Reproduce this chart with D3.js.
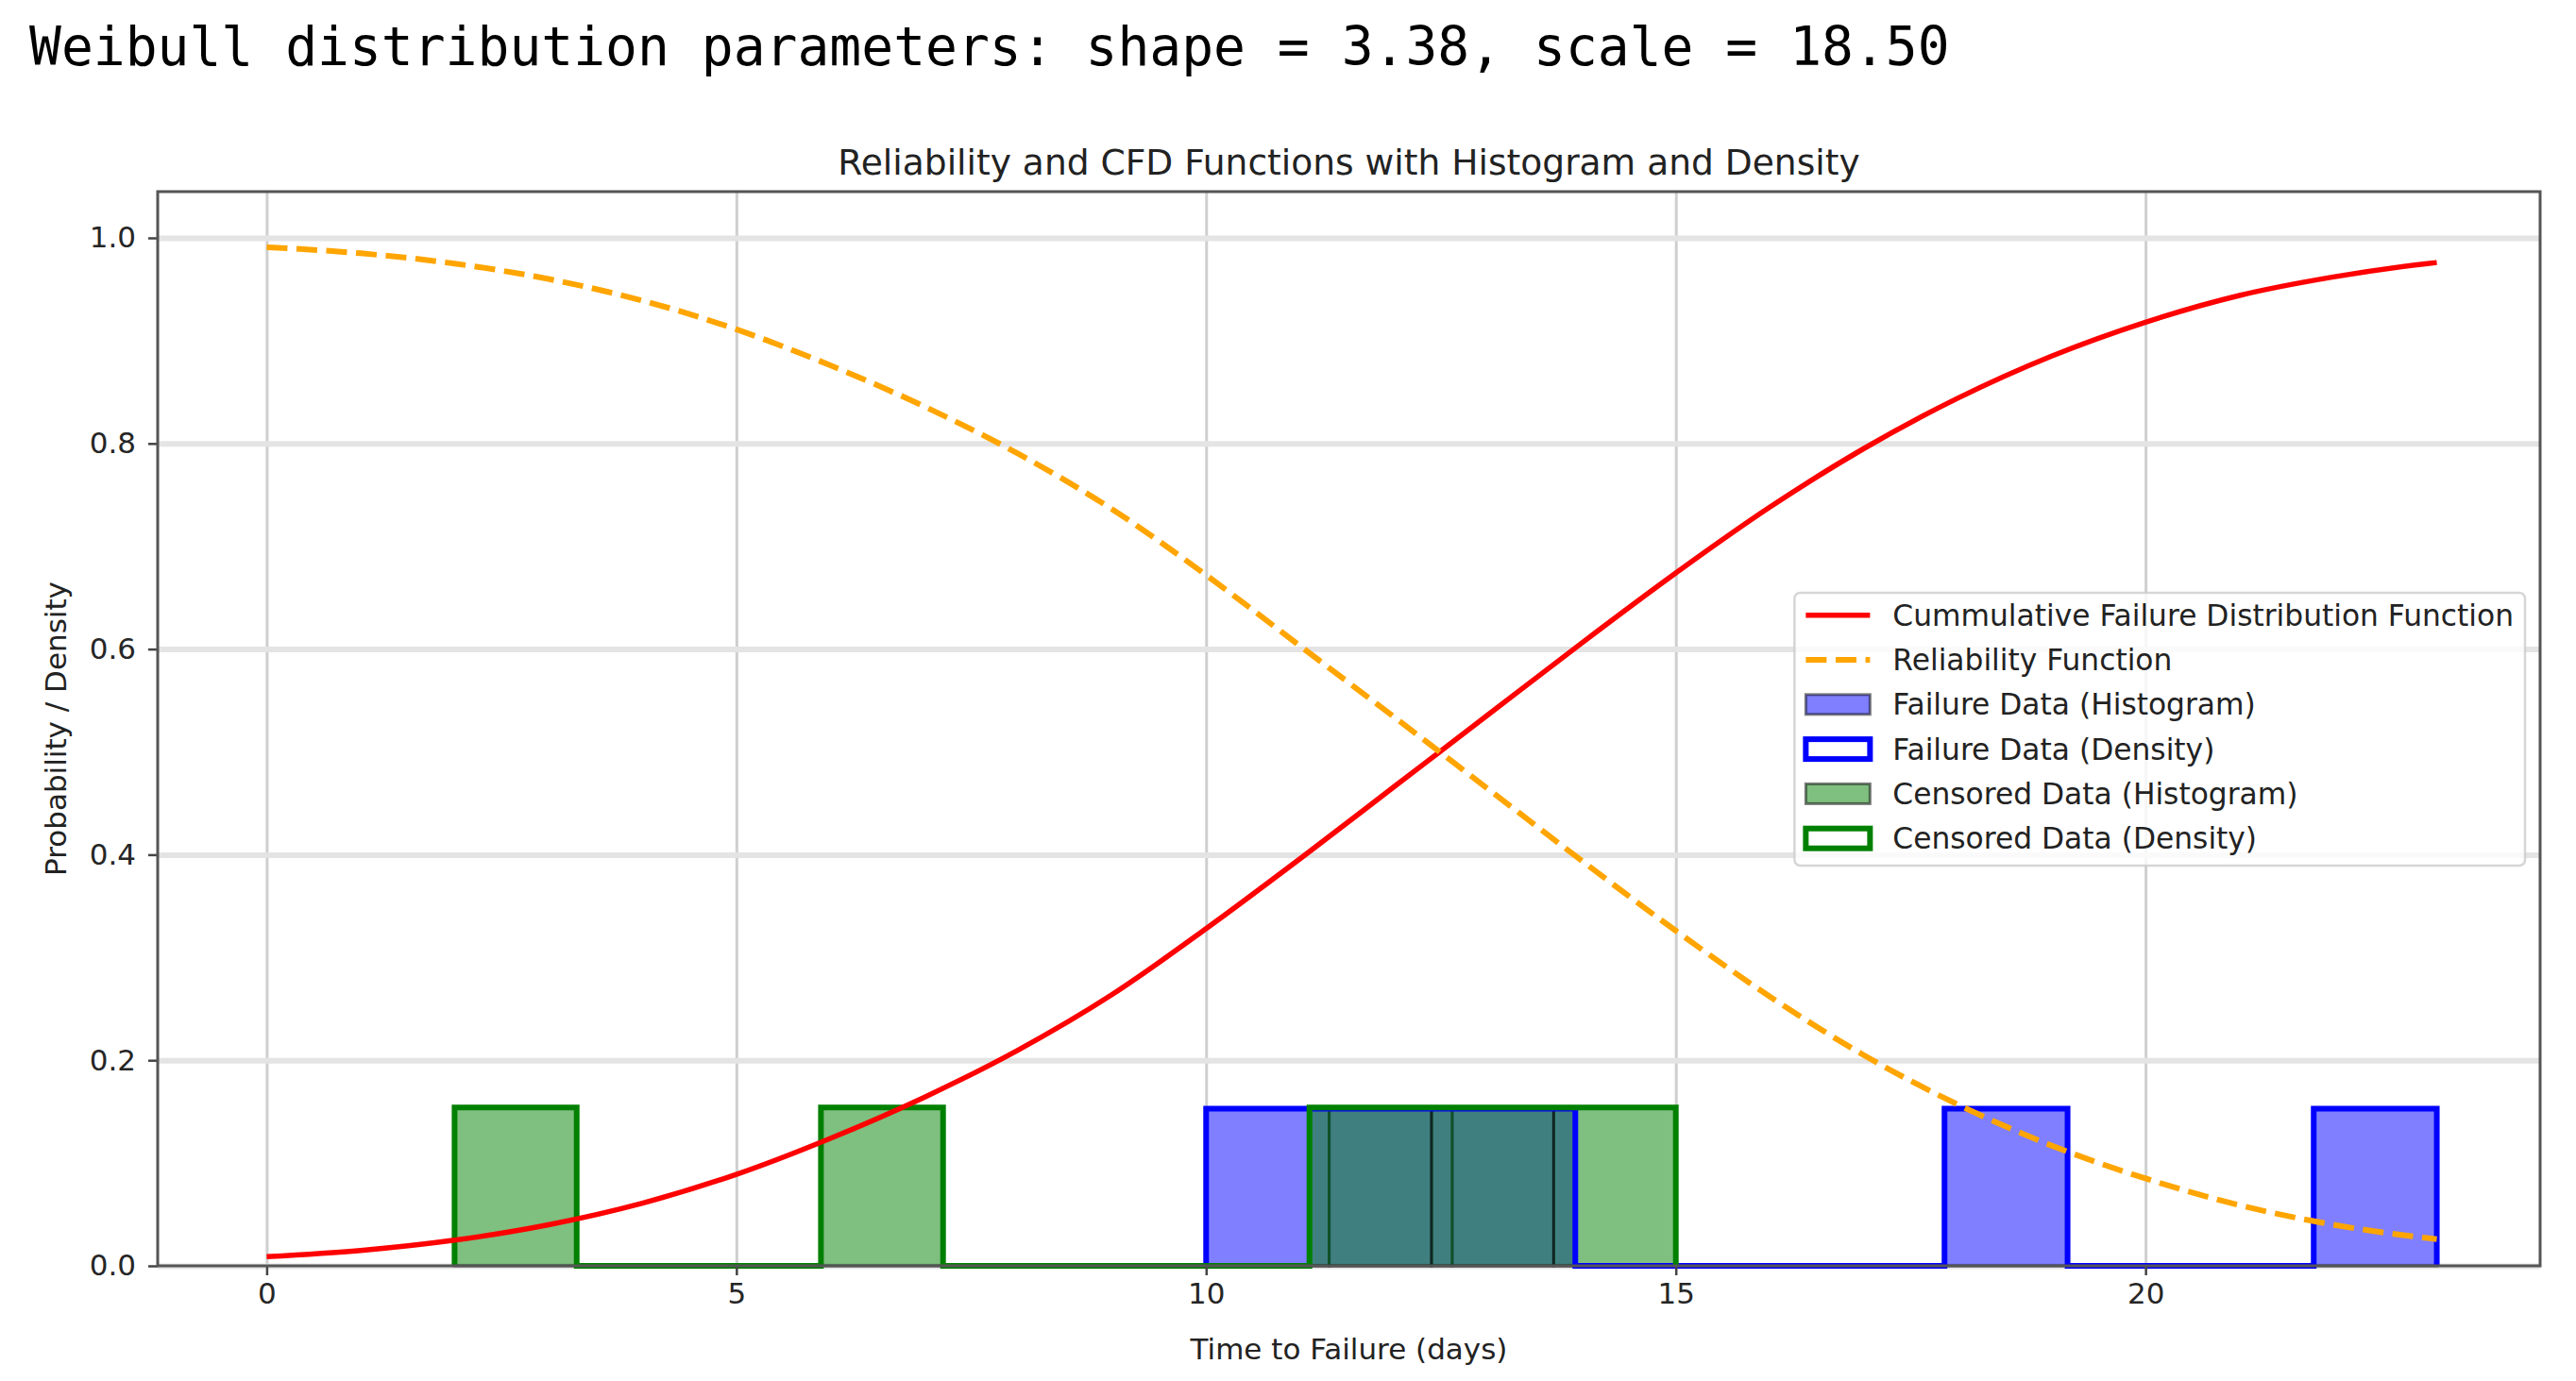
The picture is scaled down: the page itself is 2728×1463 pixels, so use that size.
<!DOCTYPE html>
<html>
<head>
<meta charset="utf-8">
<script src="https://cdn.jsdelivr.net/npm/d3@7"></script>
<style>
  body { margin: 0; background: #fff; }
  svg { display: block; }
</style>
</head>
<body>
<svg id="chart" width="2728" height="1463"></svg>
<script>
const header = 'Weibull distribution parameters: shape = 3.38, scale = 18.50';
const title = 'Reliability and CFD Functions with Histogram and Density';
const xLabel = 'Time to Failure (days)';
const yLabel = 'Probability / Density';

const times = [0, 1, 2, 3, 4, 5, 6, 7, 8, 9, 10, 11, 12, 13, 14, 15, 16, 17, 18, 19, 20, 21, 22, 23, 23.1];
const cdfValues = [0.009, 0.015, 0.025, 0.040, 0.061, 0.089, 0.124, 0.164, 0.210, 0.264, 0.328, 0.396,
  0.466, 0.536, 0.606, 0.674, 0.738, 0.795, 0.844, 0.885, 0.918, 0.944, 0.962, 0.975, 0.976];
const reliabilityValues = [0.991, 0.985, 0.975, 0.960, 0.939, 0.911, 0.876, 0.836, 0.790, 0.736, 0.672, 0.603,
  0.534, 0.464, 0.394, 0.326, 0.262, 0.205, 0.157, 0.117, 0.085, 0.059, 0.040, 0.027, 0.026];

// histogram bins (edges) and density per bin
const failureEdges = [10.0, 11.31, 12.62, 13.93, 15.24, 16.55, 17.86, 19.17, 20.48, 21.79, 23.1];
const failureDensity = [0.153, 0.153, 0.153, 0, 0, 0, 0.153, 0, 0, 0.153];
const censoredEdges = [2.0, 3.3, 4.6, 5.9, 7.2, 8.5, 9.8, 11.1, 12.4, 13.7, 15.0];
const censoredDensity = [0.154, 0, 0, 0.154, 0, 0, 0, 0.154, 0.154, 0.154];

const xTicks = [0, 5, 10, 15, 20];
const yTicks = [0.0, 0.2, 0.4, 0.6, 0.8, 1.0];

const legendLabels = [
  'Cummulative Failure Distribution Function',
  'Reliability Function',
  'Failure Data (Histogram)',
  'Failure Data (Density)',
  'Censored Data (Histogram)',
  'Censored Data (Density)',
];

const red = '#ff0000';
const orange = '#ffa500';
const blue = '#0000ff';
const green = '#008000';
const font = "'DejaVu Sans', sans-serif";

const svg = d3.select('#chart');
svg.append('rect').attr('width', 2728).attr('height', 1463).attr('fill', '#fff');

// printed line above the figure
svg.append('text')
  .attr('x', 31)
  .attr('y', 69)
  .style('font-family', "'DejaVu Sans Mono', monospace")
  .style('font-size', '56.3px')
  .attr('fill', '#000')
  .text(header);

const margin = { top: 203, right: 38, bottom: 122, left: 167 };
const width = 2728 - margin.left - margin.right;
const height = 1463 - margin.top - margin.bottom;
const chart = svg.append('g')
  .attr('transform', `translate(${margin.left}, ${margin.top})`);

const x = d3.scaleLinear().domain([-1.16, 24.2]).range([0, width]);
const y = d3.scaleLinear().domain([0, 1.045]).range([height, 0]);

// grid
chart.append('g')
    .attr('transform', `translate(0, ${height})`)
    .call(d3.axisBottom(x).tickValues(xTicks).tickSize(-height).tickFormat(''))
    .call(g => g.select('.domain').remove())
  .selectAll('line')
    .attr('stroke', '#cfcfcf')
    .attr('stroke-width', 3);

chart.append('g')
    .call(d3.axisLeft(y).tickValues(yTicks).tickSize(-width).tickFormat(''))
    .call(g => g.select('.domain').remove())
  .selectAll('line')
    .attr('stroke', '#e4e4e4')
    .attr('stroke-width', 6);

const toBins = (edges, dens) => dens.map((v, i) => ({ x0: edges[i], x1: edges[i + 1], v }));

// outline of a histogram, tracing empty bins along the baseline
const stepPoints = (edges, dens) => {
  const pts = [[edges[0], 0]];
  dens.forEach((v, i) => pts.push([edges[i], v], [edges[i + 1], v]));
  pts.push([edges[edges.length - 1], 0]);
  return pts;
};

const drawFill = (edges, dens, color) => {
  chart.append('g')
    .selectAll('rect')
    .data(toBins(edges, dens).filter(b => b.v > 0))
    .join('rect')
      .attr('x', b => x(b.x0))
      .attr('width', b => x(b.x1) - x(b.x0))
      .attr('y', b => y(b.v))
      .attr('height', b => y(0) - y(b.v))
      .attr('fill', color)
      .attr('fill-opacity', 0.5)
      .attr('stroke', '#000')
      .attr('stroke-opacity', 0.5)
      .attr('stroke-width', 3);
};

const step = d3.line().x(d => x(d[0])).y(d => y(d[1]));
const drawStep = (edges, dens, color) => {
  chart.append('path')
    .datum(stepPoints(edges, dens))
    .attr('d', step)
    .attr('fill', 'none')
    .attr('stroke', color)
    .attr('stroke-width', 6)
    .attr('stroke-linejoin', 'miter');
};

drawFill(failureEdges, failureDensity, blue);
drawFill(censoredEdges, censoredDensity, green);
drawStep(failureEdges, failureDensity, blue);
drawStep(censoredEdges, censoredDensity, green);

// curves
const curve = vals => d3.line()
  .x((d, i) => x(times[i]))
  .y(d => y(d))
  .curve(d3.curveMonotoneX)(vals);

chart.append('path')
  .attr('d', curve(cdfValues))
  .attr('fill', 'none')
  .attr('stroke', red)
  .attr('stroke-width', 5.5);

chart.append('path')
  .attr('d', curve(reliabilityValues))
  .attr('fill', 'none')
  .attr('stroke', orange)
  .attr('stroke-width', 6)
  .attr('stroke-dasharray', '22,9.6');

// axes
const xAxis = chart.append('g')
  .attr('transform', `translate(0, ${height})`)
  .call(d3.axisBottom(x).tickValues(xTicks).tickSize(10).tickPadding(8).tickFormat(d3.format('d')));
const yAxis = chart.append('g')
  .call(d3.axisLeft(y).tickValues(yTicks).tickSize(10).tickPadding(13).tickFormat(d3.format('.1f')));

[xAxis, yAxis].forEach((ax) => {
  ax.select('.domain').remove();
  ax.selectAll('line').attr('stroke', '#444').attr('stroke-width', 2.5);
  ax.selectAll('text')
    .attr('fill', '#262626')
    .style('font-family', font)
    .style('font-size', '31px');
});

// spines
chart.append('rect')
  .attr('width', width)
  .attr('height', height)
  .attr('fill', 'none')
  .attr('stroke', '#555')
  .attr('stroke-width', 3);

chart.append('text')
  .attr('x', width / 2)
  .attr('y', -18)
  .attr('text-anchor', 'middle')
  .attr('fill', '#222')
  .style('font-family', font)
  .style('font-size', '37.6px')
  .text(title);

chart.append('text')
  .attr('x', width / 2)
  .attr('y', height + 99)
  .attr('text-anchor', 'middle')
  .attr('fill', '#222')
  .style('font-family', font)
  .style('font-size', '31px')
  .text(xLabel);

chart.append('text')
  .attr('transform', `translate(-97, ${height / 2}) rotate(-90)`)
  .attr('text-anchor', 'middle')
  .attr('fill', '#222')
  .style('font-family', font)
  .style('font-size', '31px')
  .text(yLabel);

// legend, center right
const legendRight = 2674;
const legendTop = 628;
const rowGap = 47.3;
const legend = svg.append('g');
const frame = legend.append('rect');
const items = legend.append('g');

const labels = items.selectAll('text')
  .data(legendLabels)
  .join('text')
    .attr('y', (d, i) => legendTop + 23.7 + i * rowGap)
    .attr('dy', '0.35em')
    .attr('fill', '#222')
    .style('font-family', font)
    .style('font-size', '31.3px')
    .text(d => d);

const textWidth = d3.max(labels.nodes(), n => n.getComputedTextLength());
const legendWidth = 12 + 68 + 24 + textWidth + 12;
const legendLeft = legendRight - legendWidth;
labels.attr('x', legendLeft + 104);

frame
  .attr('x', legendLeft)
  .attr('y', legendTop)
  .attr('width', legendWidth)
  .attr('height', 289)
  .attr('rx', 6)
  .attr('fill', '#fff')
  .attr('fill-opacity', 0.8)
  .attr('stroke', '#cccccc')
  .attr('stroke-opacity', 0.8)
  .attr('stroke-width', 2.5);

const hx = legendLeft + 12;
const rowY = i => legendTop + 23.7 + i * rowGap;

items.append('line')
  .attr('x1', hx).attr('x2', hx + 68)
  .attr('y1', rowY(0)).attr('y2', rowY(0))
  .attr('stroke', red).attr('stroke-width', 5.5);
items.append('line')
  .attr('x1', hx).attr('x2', hx + 68)
  .attr('y1', rowY(1)).attr('y2', rowY(1))
  .attr('stroke', orange).attr('stroke-width', 6)
  .attr('stroke-dasharray', '22,9.6');

const patch = (i, fill, stroke, sw, fillOpacity, strokeOpacity) => {
  items.append('rect')
    .attr('x', hx).attr('y', rowY(i) - 10.5)
    .attr('width', 68).attr('height', 21)
    .attr('fill', fill).attr('fill-opacity', fillOpacity)
    .attr('stroke', stroke).attr('stroke-opacity', strokeOpacity)
    .attr('stroke-width', sw);
};
patch(2, blue, '#000', 3, 0.5, 0.5);
patch(3, 'none', blue, 6, 1, 1);
patch(4, green, '#000', 3, 0.5, 0.5);
patch(5, 'none', green, 6, 1, 1);
</script>
</body>
</html>
